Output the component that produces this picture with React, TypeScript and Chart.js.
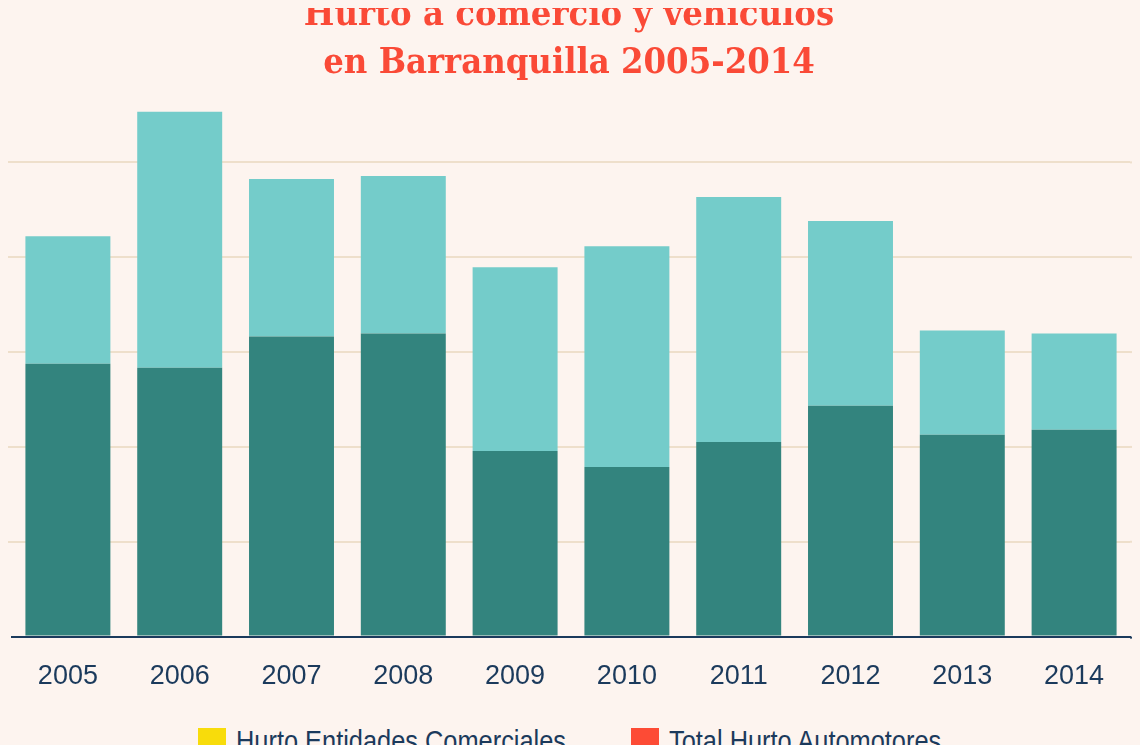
import React, { useEffect, useRef } from "react";
import { Chart, registerables } from "chart.js";

Chart.register(...registerables);

const years = ["2005", "2006", "2007", "2008", "2009", "2010", "2011", "2012", "2013", "2014"];
const hurtoEntidades = [2878, 2836, 3164, 3196, 1958, 1788, 2053, 2434, 2127, 2180];
const hurtoAutomotores = [1344, 2698, 1661, 1661, 1937, 2328, 2582, 1947, 1101, 1016];
const gridValues = [0, 1000, 2000, 3000, 4000, 5000];
const legendLabels = ["Hurto Entidades Comerciales", "Total Hurto Automotores"];
const legendColors = ["#f8dc0b", "#fd4b35"];
const titleLines = ["Hurto a comercio y vehículos", "en Barranquilla 2005-2014"];

const BG = "#fdf4ef";
const NAVY = "#1b3a5c";
const GRID = "#eedfcb";
const TITLE_FONT = "'DejaVu Serif Condensed', 'DejaVu Serif', serif";
const SANS = "'Liberation Sans', Arial, sans-serif";

// extends horizontal grid lines and the baseline to the right edge of the canvas
const extendGrid = {
  id: "extendGrid",
  beforeDatasetsDraw(chart: any) {
    const { ctx, chartArea, scales } = chart;
    const y = scales.y;
    ctx.save();
    ctx.lineWidth = 2;
    ctx.strokeStyle = GRID;
    gridValues.forEach((v) => {
      if (v === 0) return;
      const py = y.getPixelForValue(v);
      ctx.beginPath();
      ctx.moveTo(chartArea.right, py);
      ctx.lineTo(chart.width, py);
      ctx.stroke();
    });
    ctx.strokeStyle = NAVY;
    const by = y.getPixelForValue(0) + 1;
    ctx.beginPath();
    ctx.moveTo(chartArea.right, by);
    ctx.lineTo(chart.width, by);
    ctx.stroke();
    ctx.restore();
  },
};

export default function App() {
  const ref = useRef<HTMLCanvasElement>(null);

  useEffect(() => {
    document.body.style.background = BG;
    document.documentElement.style.overflow = "hidden";
    let chart: Chart | null = null;
    let cancelled = false;
    const make = () => {
      if (cancelled || !ref.current) return;
      chart = new Chart(ref.current, {
        type: "bar",
        data: {
          labels: years,
          datasets: [
            { label: legendLabels[0], data: hurtoEntidades, backgroundColor: "#33847e", barPercentage: 0.76, categoryPercentage: 1 },
            { label: legendLabels[1], data: hurtoAutomotores, backgroundColor: "#74ccca", barPercentage: 0.76, categoryPercentage: 1 },
          ],
        },
        plugins: [extendGrid],
        options: {
          responsive: false,
          animation: false,
          layout: { padding: { left: 0, right: 10, top: 0, bottom: 0 } },
          plugins: {
            title: {
              display: true,
              text: titleLines,
              color: "#fa4a37",
              font: { family: TITLE_FONT, weight: "bold", size: 36, lineHeight: 48 / 36 },
              padding: { top: 12, bottom: 8 },
            },
            legend: { display: false },
            tooltip: { enabled: false },
          },
          scales: {
            x: {
              stacked: true,
              grid: { display: false, drawTicks: false },
              border: { display: true, color: NAVY, width: 2 },
              ticks: { color: NAVY, padding: 24, font: { family: SANS, size: 27 } },
            },
            y: {
              stacked: true,
              min: 0,
              max: 5700,
              bounds: "data",
              ticks: { display: false },
              afterBuildTicks: (s: any) => {
                s.ticks = gridValues.map((v) => ({ value: v }));
              },
              border: { display: false },
              grid: {
                drawTicks: true,
                tickLength: 4,
                lineWidth: 2,
                color: (ctx: any) => (ctx.tick && ctx.tick.value === 0 ? "rgba(0,0,0,0)" : GRID),
              },
            },
          },
        },
      });
    };
    const fonts = (document as any).fonts;
    if (fonts && fonts.load) {
      Promise.all([
        fonts.load(`bold 36px 'DejaVu Serif Condensed'`),
        fonts.load(`bold 36px 'DejaVu Serif'`),
        fonts.load(`27px 'Liberation Sans'`),
      ])
        .catch(() => null)
        .then(make);
    } else {
      make();
    }
    return () => {
      cancelled = true;
      if (chart) chart.destroy();
    };
  }, []);

  const legendText: React.CSSProperties = {
    position: "absolute",
    top: 747,
    fontFamily: SANS,
    fontSize: 29,
    lineHeight: 1,
    color: NAVY,
    whiteSpace: "nowrap",
    transform: "scaleX(0.875)",
    transformOrigin: "left top",
  };

  return (
    <div style={{ marginTop: -28, width: 1132, height: 780, background: BG, position: "relative" }}>
      <canvas ref={ref} width={1132} height={737} style={{ display: "block" }} />
      <div style={{ position: "absolute", left: 190, top: 748, width: 28, height: 28, background: legendColors[0] }} />
      <div style={{ ...legendText, left: 228 }}>{legendLabels[0]}</div>
      <div style={{ position: "absolute", left: 623, top: 748, width: 28, height: 28, background: legendColors[1] }} />
      <div style={{ ...legendText, left: 661 }}>{legendLabels[1]}</div>
    </div>
  );
}
